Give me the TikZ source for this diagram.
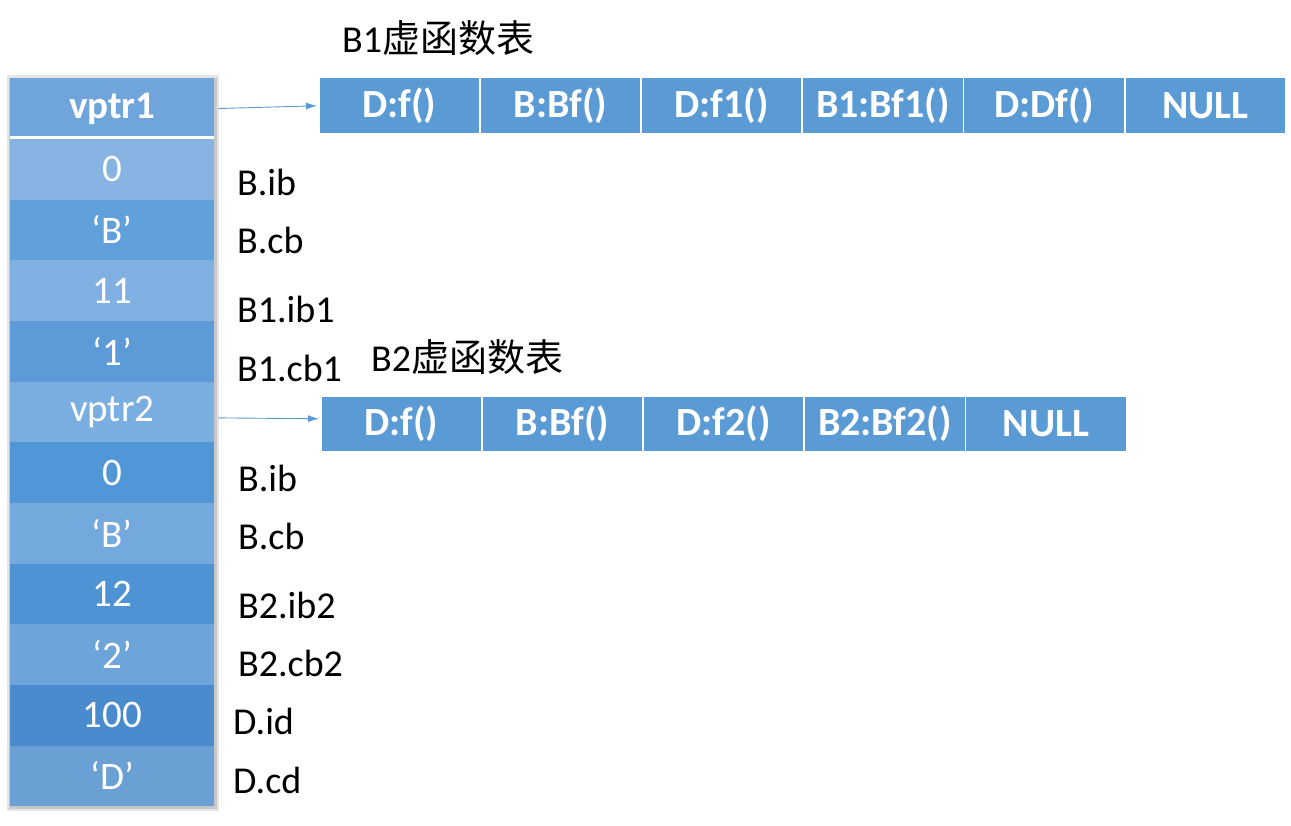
\documentclass[tikz,border=0pt]{standalone}
\usepackage{fontspec}
\setmainfont{Carlito}
\newfontfamily\cjk{Noto Sans CJK SC}[Scale=1.0]
\usetikzlibrary{arrows.meta}
\definecolor{tblue}{HTML}{5B9BD5}
\definecolor{c0}{HTML}{6FA5DA}
\definecolor{c1}{HTML}{86B3E1}
\definecolor{c2}{HTML}{60A0DB}
\definecolor{c3}{HTML}{80B0E1}
\definecolor{c4}{HTML}{5C9BD8}
\definecolor{c5}{HTML}{7BAEE0}
\definecolor{c6}{HTML}{5196D7}
\definecolor{c7}{HTML}{73A9DD}
\definecolor{c8}{HTML}{4E93D4}
\definecolor{c9}{HTML}{6DA4DA}
\definecolor{c10}{HTML}{4A8BCD}
\definecolor{c11}{HTML}{6BA0D4}
\tikzset{
  cellrow/.style={draw=none, minimum width=204pt, minimum height=60.67pt, inner sep=0pt, text=white, font=\fontsize{39}{42}\selectfont},
  vcell/.style={fill=tblue, draw=white, line width=1.5pt, minimum width=161pt, minimum height=56pt, inner sep=0pt, text=white, font=\bfseries\fontsize{40}{42}\selectfont},
  lbl/.style={anchor=west, inner sep=0pt, font=\fontsize{38}{40}\selectfont},
  ttl/.style={anchor=west, inner sep=0pt, font=\fontsize{38}{40}\selectfont},
  arr/.style={draw=tblue, line width=0.9pt, -{Latex[length=11pt,width=7pt]}}
}
\begin{document}
\begin{tikzpicture}[x=1pt,y=-1pt]
\useasboundingbox (0,0) rectangle (1291,826);
% shadow
\fill[black!10] (7,75) rectangle (219,811);
\fill[black!22] (9,78) rectangle (217,809);
% column rows
\foreach \i/\t in {0/{\bfseries vptr1},1/0,2/‘B’,3/11,4/‘1’,5/vptr2,6/0,7/‘B’,8/12,9/‘2’,10/100,11/‘D’}{
  \node[cellrow, fill=c\i, anchor=north west] (r\i) at (10,{78+\i*60.67}) {\t};
}
\draw[white, line width=3pt] (10,138) -- (214,138);
% labels
\node[lbl] (l1) at (237,182) {B.ib};
\node[lbl] (l2) at (237,240) {B.cb};
\node[lbl] (l3) at (237,309) {B1.ib1};
\node[lbl] (l4) at (237,368) {B1.cb1};
\node[lbl] (l6) at (238,478) {B.ib};
\node[lbl] (l7) at (238,536) {B.cb};
\node[lbl] (l8) at (238,605) {B2.ib2};
\node[lbl] (l9) at (238,663) {B2.cb2};
\node[lbl] (l10) at (233,721) {D.id};
\node[lbl] (l11) at (233,780) {D.cd};
% titles
\node[ttl] (t1) at (342,38) {B1{\cjk 虚函数表}};
\node[ttl] (t2) at (371,357) {B2{\cjk 虚函数表}};
% B1 table
\foreach \i/\t in {0/D:f(),1/B:Bf(),2/D:f1(),3/B1:Bf1(),4/D:Df(),5/NULL}{
  \node[vcell, anchor=north west] (a\i) at ({318+\i*161.2},77) {\t};
}
% B2 table
\foreach \i/\t in {0/D:f(),1/B:Bf(),2/D:f2(),3/B2:Bf2(),4/NULL}{
  \node[vcell, anchor=north west] (b\i) at ({320+\i*161.2},395) {\t};
}
% arrows
\draw[arr] ([xshift=4pt]r0.east) -- ([xshift=-1pt]a0.west);
\draw[arr] ([xshift=4pt,yshift=-6pt]r5.east) -- ([xshift=-1pt,yshift=5pt]b0.west);
\end{tikzpicture}
\end{document}
